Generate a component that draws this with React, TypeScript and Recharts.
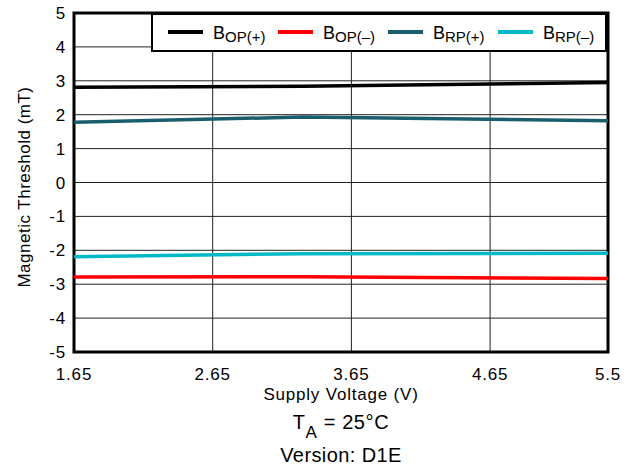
import { CartesianGrid, Line, LineChart, ReferenceArea, XAxis, YAxis } from 'recharts';

const voltages = [1.65, 3.3, 5.5];
const bopPos = [2.81, 2.84, 2.95];
const bopNeg = [-2.79, -2.78, -2.83];
const brpPos = [1.78, 1.93, 1.82];
const brpNeg = [-2.19, -2.1, -2.09];

const xTicks = [1.65, 2.65, 3.65, 4.65, 5.5];
const yTicks = [-5, -4, -3, -2, -1, 0, 1, 2, 3, 4, 5];

const series = [
  { key: 'bopPos', main: 'B', sub: 'OP(+)', color: '#000000' },
  { key: 'bopNeg', main: 'B', sub: 'OP(–)', color: '#ff0000' },
  { key: 'brpPos', main: 'B', sub: 'RP(+)', color: '#1a5e6e' },
  { key: 'brpNeg', main: 'B', sub: 'RP(–)', color: '#00b8c8' },
];

const rows = voltages.map((v, i) => ({
  v,
  bopPos: bopPos[i],
  bopNeg: bopNeg[i],
  brpPos: brpPos[i],
  brpNeg: brpNeg[i],
}));

const font = '"Liberation Sans", Arial, sans-serif';
const tick = { fill: '#000', fontSize: 17, fontFamily: font, letterSpacing: 0.8 };

export default function App() {
  return (
    <div style={{ position: 'absolute', left: 0, top: 0, width: 633, height: 473, background: '#fff', fontFamily: font, color: '#000' }}>
      <LineChart width={633} height={473} data={rows} margin={{ top: 13, right: 25, left: 0, bottom: 0 }}>
        <CartesianGrid stroke="#222" strokeWidth={1} horizontalValues={yTicks} verticalValues={xTicks} />
        <XAxis
          type="number"
          dataKey="v"
          domain={[1.65, 5.5]}
          ticks={xTicks}
          tick={tick}
          tickLine={false}
          axisLine={false}
          height={121}
          tickMargin={10}
        />
        <YAxis
          type="number"
          domain={[-5, 5]}
          ticks={yTicks}
          tick={tick}
          tickLine={false}
          axisLine={false}
          width={74}
          tickMargin={2}
        />
        {series.map((s) => (
          <Line
            key={s.key}
            type="linear"
            dataKey={s.key}
            stroke={s.color}
            strokeWidth={3.5}
            dot={false}
            isAnimationActive={false}
          />
        ))}
        <ReferenceArea x1={1.65} x2={5.5} y1={-5} y2={5} fill="none" stroke="#000" strokeWidth={3} ifOverflow="visible" />
      </LineChart>

      {/* legend box */}
      <div
        style={{
          position: 'absolute',
          left: 151,
          top: 12,
          width: 457,
          height: 40,
          boxSizing: 'border-box',
          border: '2px solid #000',
          borderTopWidth: 3,
          borderRightWidth: 3,
          background: '#fff',
        }}
      />
      {series.map((s, i) => (
        <div key={s.key}>
          <div style={{ position: 'absolute', left: 168 + i * 110, top: 30, width: 35, height: 3.5, background: s.color }} />
          <div style={{ position: 'absolute', left: 213 + i * 110, top: 24, fontSize: 18, lineHeight: '18px', whiteSpace: 'nowrap' }}>
            {s.main}
            <span style={{ fontSize: 15, position: 'relative', top: 3 }}>{s.sub}</span>
          </div>
        </div>
      ))}

      <div
        style={{
          position: 'absolute',
          left: 24,
          top: 187,
          transform: 'translate(-50%, -50%) rotate(-90deg)',
          whiteSpace: 'nowrap',
          fontSize: 17,
          letterSpacing: 0.5,
          lineHeight: '17px',
        }}
      >
        Magnetic Threshold (mT)
      </div>
      <div style={{ position: 'absolute', left: 0, width: 682, top: 386, textAlign: 'center', fontSize: 17, lineHeight: '17px', letterSpacing: 0.8 }}>
        Supply Voltage (V)
      </div>
      <div style={{ position: 'absolute', left: 0, width: 682, top: 412, textAlign: 'center', fontSize: 20, lineHeight: '20px', letterSpacing: 0.6, whiteSpace: 'nowrap' }}>
        T<span style={{ fontSize: 17, position: 'relative', top: 9 }}>A</span> = 25°C
      </div>
      <div style={{ position: 'absolute', left: 0, width: 682, top: 445, textAlign: 'center', fontSize: 20, lineHeight: '20px', letterSpacing: 0.4 }}>
        Version: D1E
      </div>
    </div>
  );
}
